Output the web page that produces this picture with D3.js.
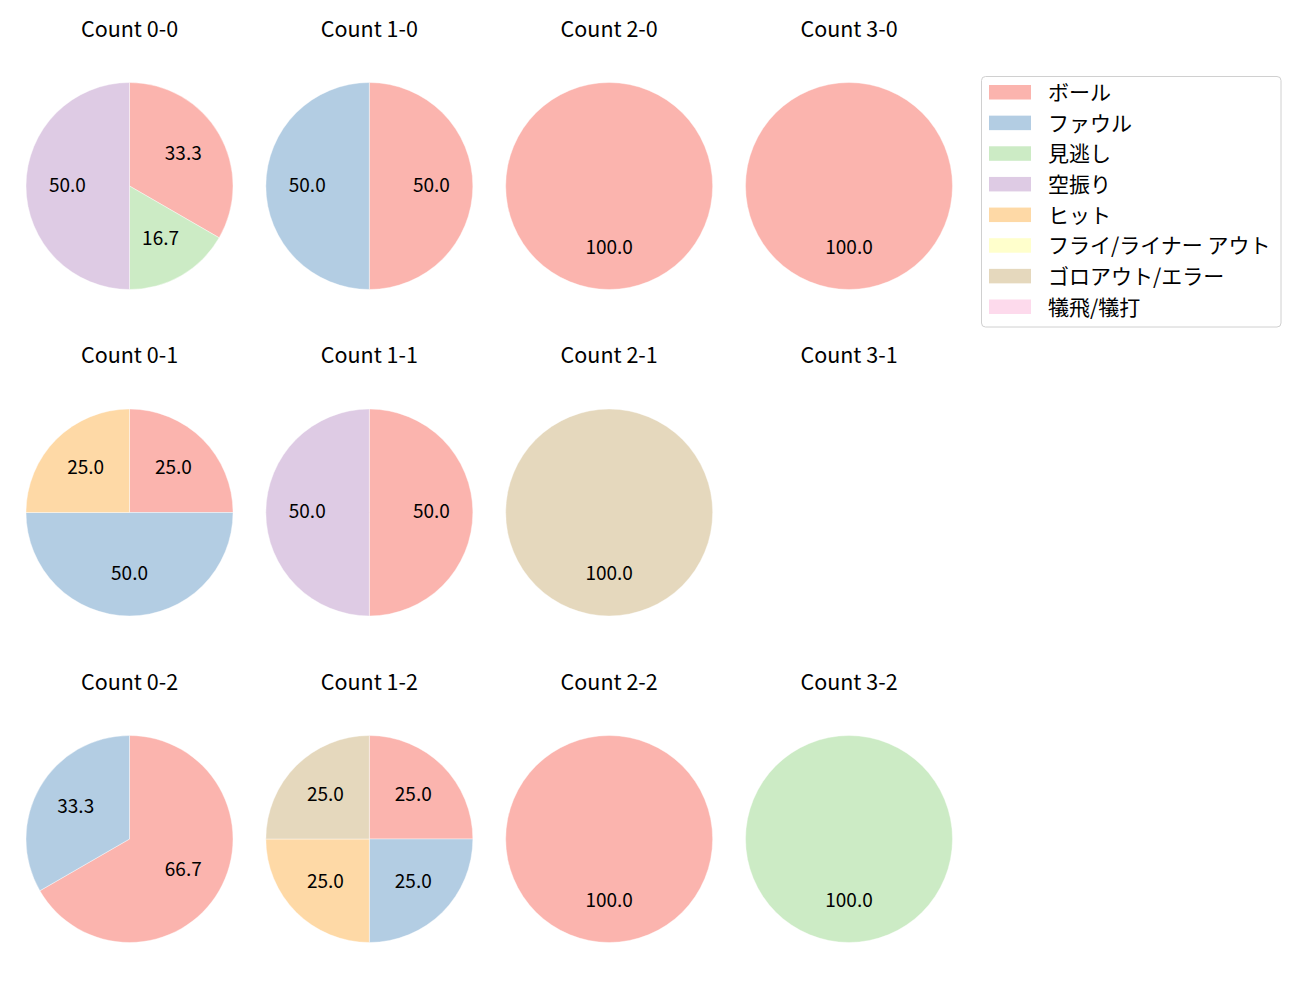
<!DOCTYPE html>
<html><head><meta charset="utf-8">
<script src="https://cdn.jsdelivr.net/npm/d3@7"></script>
<style>body{margin:0;background:#fff;} svg{display:block;font-family:"Noto Sans CJK JP","Noto Sans",sans-serif;}</style>
</head><body>
<svg id="c" width="1300" height="1000"></svg>
<script>
const categories = ["ボール","ファウル","見逃し","空振り","ヒット","フライ/ライナー アウト","ゴロアウト/エラー","犠飛/犠打"];
const colors = ["#fbb4ae","#b3cde3","#ccebc5","#decbe4","#fed9a6","#ffffcc","#e5d8bd","#fddaec"];
const countLabels = ["0-0","1-0","2-0","3-0","0-1","1-1","2-1","3-1","0-2","1-2","2-2","3-2"];
// counts per category in the order of `categories`
const v00 = [2,0,1,3,0,0,0,0];
const v10 = [1,1,0,0,0,0,0,0];
const v20 = [1,0,0,0,0,0,0,0];
const v30 = [1,0,0,0,0,0,0,0];
const v01 = [1,2,0,0,1,0,0,0];
const v11 = [1,0,0,1,0,0,0,0];
const v21 = [0,0,0,0,0,0,1,0];
const v31 = [0,0,0,0,0,0,0,0];
const v02 = [2,1,0,0,0,0,0,0];
const v12 = [1,1,0,0,1,0,1,0];
const v22 = [1,0,0,0,0,0,0,0];
const v32 = [0,0,1,0,0,0,0,0];
const seriesValues = [v00,v10,v20,v30,v01,v11,v21,v31,v02,v12,v22,v32];

const svg = d3.select("#c");
const color = d3.scaleOrdinal().domain(categories).range(colors);
const colX = d3.scalePoint().domain([0,1,2,3]).range([129.5, 849]);
const rowY = d3.scalePoint().domain([0,1,2]).range([186, 839]);
const R = 103.5;

const pie = d3.pie().sort(null).value(d => d.v).startAngle(0).endAngle(2*Math.PI);
const arc = d3.arc().innerRadius(0).outerRadius(R);
const labelArc = d3.arc().innerRadius(R*0.6).outerRadius(R*0.6);

countLabels.forEach((lab, i) => {
  const col = i % 4, row = Math.floor(i / 4);
  const g = svg.append("g").attr("transform", `translate(${colX(col)},${rowY(row)})`);
  g.append("text").attr("x", 0).attr("y", -R - 55.5).attr("text-anchor","middle")
    .attr("dominant-baseline","central").attr("font-size", 21.5).attr("fill","#000").text("Count " + lab);
  const data = categories.map((c, k) => ({c, v: seriesValues[i][k]}));
  const total = d3.sum(data, d => d.v);
  if (total === 0) return;
  const arcs = pie(data).filter(a => a.data.v > 0);
  g.selectAll("path.s").data(arcs).join("path").attr("class","s")
    .attr("d", arc).attr("fill", d => color(d.data.c))
    .attr("stroke","#fff").attr("stroke-width",0.4);
  g.selectAll("text.p").data(arcs).join("text").attr("class","p")
    .attr("transform", d => { const c = labelArc.centroid(d); return `translate(${c[0]},${c[1]-3})`; })
    .attr("text-anchor","middle").attr("dominant-baseline","central")
    .attr("font-size", 19).attr("fill","#000")
    .text(d => (d.data.v / total * 100).toFixed(1));
});

// legend
const lg = svg.append("g").attr("transform","translate(981,76)");
lg.append("rect").attr("x",0.5).attr("y",0.5).attr("width",299.5).attr("height",250.5)
  .attr("rx",4).attr("fill","#fff").attr("stroke","#d0d0d0").attr("stroke-width",1);
const ly = d3.scalePoint().domain(categories).range([16, 230.5]);
categories.forEach(c => {
  lg.append("rect").attr("x",8).attr("y",ly(c)-7).attr("width",42).attr("height",14.5).attr("fill",color(c));
  lg.append("text").attr("x",67).attr("y",ly(c)-1).attr("dominant-baseline","central")
    .attr("font-size",21).attr("fill","#000").text(c);
});
</script>
</body></html>
